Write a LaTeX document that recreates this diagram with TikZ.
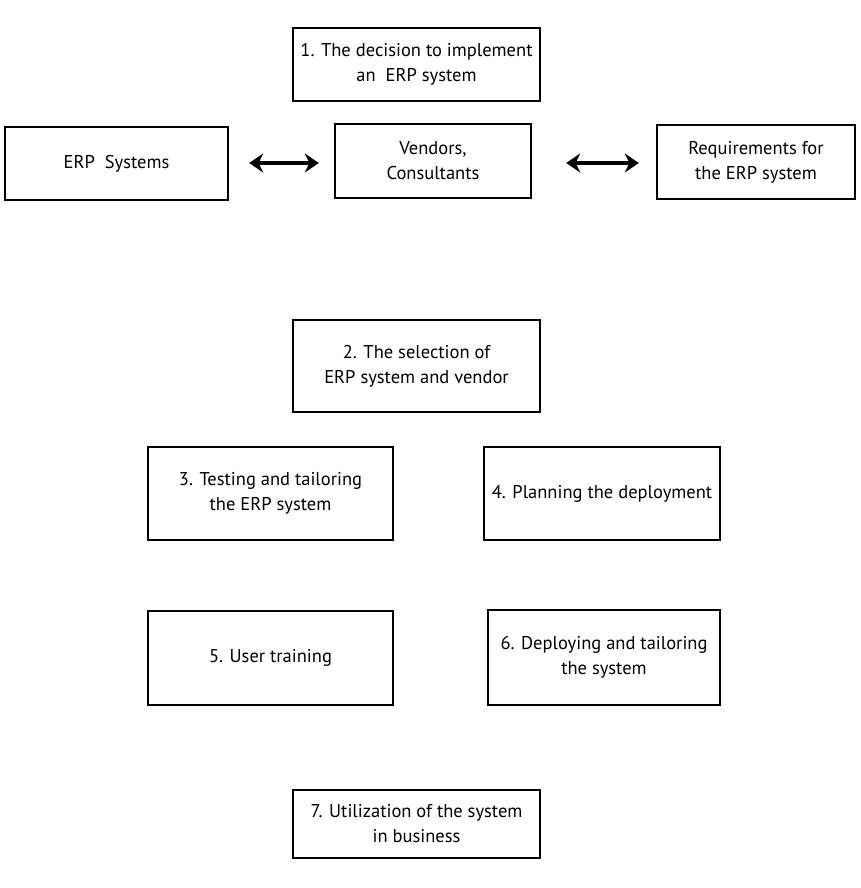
\documentclass[tikz,border=0pt]{standalone}
\usepackage{fontspec}
\setmainfont{PT Sans}
\usetikzlibrary{arrows.meta}
\tikzset{
  stage/.style={draw=black, line width=2.4pt, align=center, inner sep=2pt,
    font=\fontsize{18.5}{25}\selectfont, text=black},
  twoway/.style={{Stealth[length=14pt,width=19pt]}-{Stealth[length=14pt,width=19pt]}, line width=4pt}
}
\begin{document}
\begin{tikzpicture}[x=1pt,y=-1pt]
  \useasboundingbox (0,0) rectangle (860,888);
  \node[stage, minimum width=247pt, minimum height=73pt] (s1) at (416.5,64.5)
    {1. The decision to implement\\an\ \ ERP system};
  \node[stage, minimum width=223pt, minimum height=73pt] (erp) at (116.5,163.5)
    {ERP\ \ Systems};
  \node[stage, minimum width=196pt, minimum height=74pt] (ven) at (433,161)
    {Vendors,\\Consultants};
  \node[stage, minimum width=198pt, minimum height=74pt] (req) at (756,162)
    {Requirements for\\the ERP system};
  \node[stage, minimum width=247pt, minimum height=92pt] (s2) at (416.5,366)
    {2. The selection of\\ERP system and vendor};
  \node[stage, minimum width=245pt, minimum height=93pt] (s3) at (270.5,493.5)
    {3. Testing and tailoring\\the ERP system};
  \node[stage, minimum width=236pt, minimum height=93pt] (s4) at (602,493.5)
    {4. Planning the deployment};
  \node[stage, minimum width=245pt, minimum height=94pt] (s5) at (270.5,658)
    {5. User training};
  \node[stage, minimum width=232pt, minimum height=95pt] (s6) at (604,657.5)
    {6. Deploying and tailoring\\the system};
  \node[stage, minimum width=247pt, minimum height=68pt] (s7) at (416.5,824)
    {7. Utilization of the system\\in business};

  \draw[twoway, shorten <=20pt, shorten >=15pt] (erp.east |- 0,163) -- (ven.west |- 0,163);
  \draw[twoway, shorten <=34pt, shorten >=17pt] (ven.east |- 0,163) -- (req.west |- 0,163);
\end{tikzpicture}
\end{document}
